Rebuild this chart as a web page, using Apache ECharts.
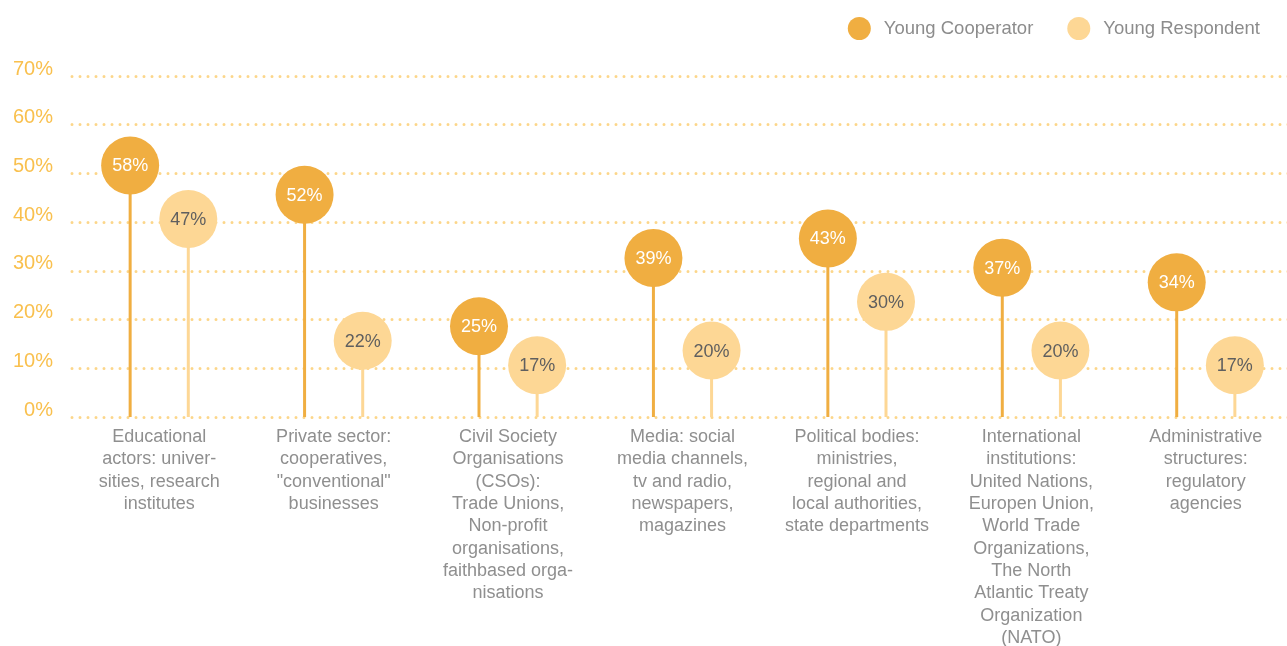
<!DOCTYPE html>
<html>
<head>
<meta charset="utf-8">
<script src="https://cdn.jsdelivr.net/npm/echarts@6/dist/echarts.min.js"></script>
<style>
  html, body { margin: 0; padding: 0; background: #fff; }
  #chart { width: 1287px; height: 646px; }
</style>
</head>
<body>
<div id="chart"></div>
<script>
const categories = [
  'Educational\nactors: univer-\nsities, research\ninstitutes',
  'Private sector:\ncooperatives,\n"conventional"\nbusinesses',
  'Civil Society\nOrganisations\n(CSOs):\nTrade Unions,\nNon-profit\norganisations,\nfaithbased orga-\nnisations',
  'Media: social\nmedia channels,\ntv and radio,\nnewspapers,\nmagazines',
  'Political bodies:\nministries,\nregional and\nlocal authorities,\nstate departments',
  'International\ninstitutions:\nUnited Nations,\nEuropen Union,\nWorld Trade\nOrganizations,\nThe North\nAtlantic Treaty\nOrganization\n(NATO)',
  'Administrative\nstructures:\nregulatory\nagencies'
]
const youngCooperator = [58, 52, 25, 39, 43, 37, 34]
const youngRespondent = [47, 22, 17, 20, 30, 20, 17]

const FONT = '"Liberation Sans", Arial, sans-serif'
const R = 29

// stem + bubble + label, side = -1 (left) or 1 (right) within the category band
function lollipop (side, fill, textColor) {
  return function (params, api) {
    const cat = api.value(0)
    const v = api.value(1)
    const base = api.coord([cat, 0])
    const top = api.coord([cat, v])
    const band = api.size([1, 0])[0]
    const x = base[0] + side * band / 6
    const cy = top[1] + R + 2
    return {
      type: 'group',
      children: [
        { type: 'line', shape: { x1: x, y1: base[1], x2: x, y2: cy }, style: { stroke: fill, lineWidth: 3 } },
        { type: 'circle', shape: { cx: x, cy: cy, r: R }, style: { fill: fill } },
        {
          type: 'text',
          style: {
            text: v + '%', x: x, y: cy + 1, align: 'center', verticalAlign: 'middle',
            fill: textColor, font: '18px ' + FONT
          }
        }
      ]
    }
  }
}

const chart = echarts.init(document.getElementById('chart'))
chart.setOption({
  animation: false,
  textStyle: { fontFamily: FONT },
  legend: {
    right: 22,
    top: 12,
    icon: 'circle',
    itemWidth: 23,
    itemHeight: 23,
    itemGap: 34,
    textStyle: { color: '#8c8c8c', fontSize: 18.5, padding: [0, 0, 0, 8] },
    data: ['Young Cooperator', 'Young Respondent']
  },
  grid: { left: 72, right: -6, top: 76, bottom: 229, outerBoundsMode: 'none' },
  xAxis: {
    type: 'category',
    data: categories,
    axisLine: { show: false },
    axisTick: { show: false },
    axisLabel: { color: '#8f8f8f', fontSize: 18, lineHeight: 22.3, margin: 9, interval: 0, verticalAlign: 'top' }
  },
  yAxis: {
    type: 'value',
    min: 0,
    max: 70,
    interval: 10,
    axisLine: { show: false },
    axisTick: { show: false },
    axisLabel: {
      formatter: '{value}%', color: '#f9c04e', fontSize: 20, margin: 19,
      lineHeight: 14, verticalAlign: 'bottom'
    },
    splitLine: { lineStyle: { color: '#fcd68a', width: 3, type: [0, 8], cap: 'round' } }
  },
  series: [
    {
      name: 'Young Cooperator',
      type: 'custom',
      itemStyle: { color: '#f0ae41' },
      renderItem: lollipop(-1, '#f0ae41', '#ffffff'),
      data: youngCooperator.map((v, i) => [i, v])
    },
    {
      name: 'Young Respondent',
      type: 'custom',
      itemStyle: { color: '#fdd795' },
      renderItem: lollipop(1, '#fdd795', '#5f5f5f'),
      data: youngRespondent.map((v, i) => [i, v])
    }
  ]
})
</script>
</body>
</html>
